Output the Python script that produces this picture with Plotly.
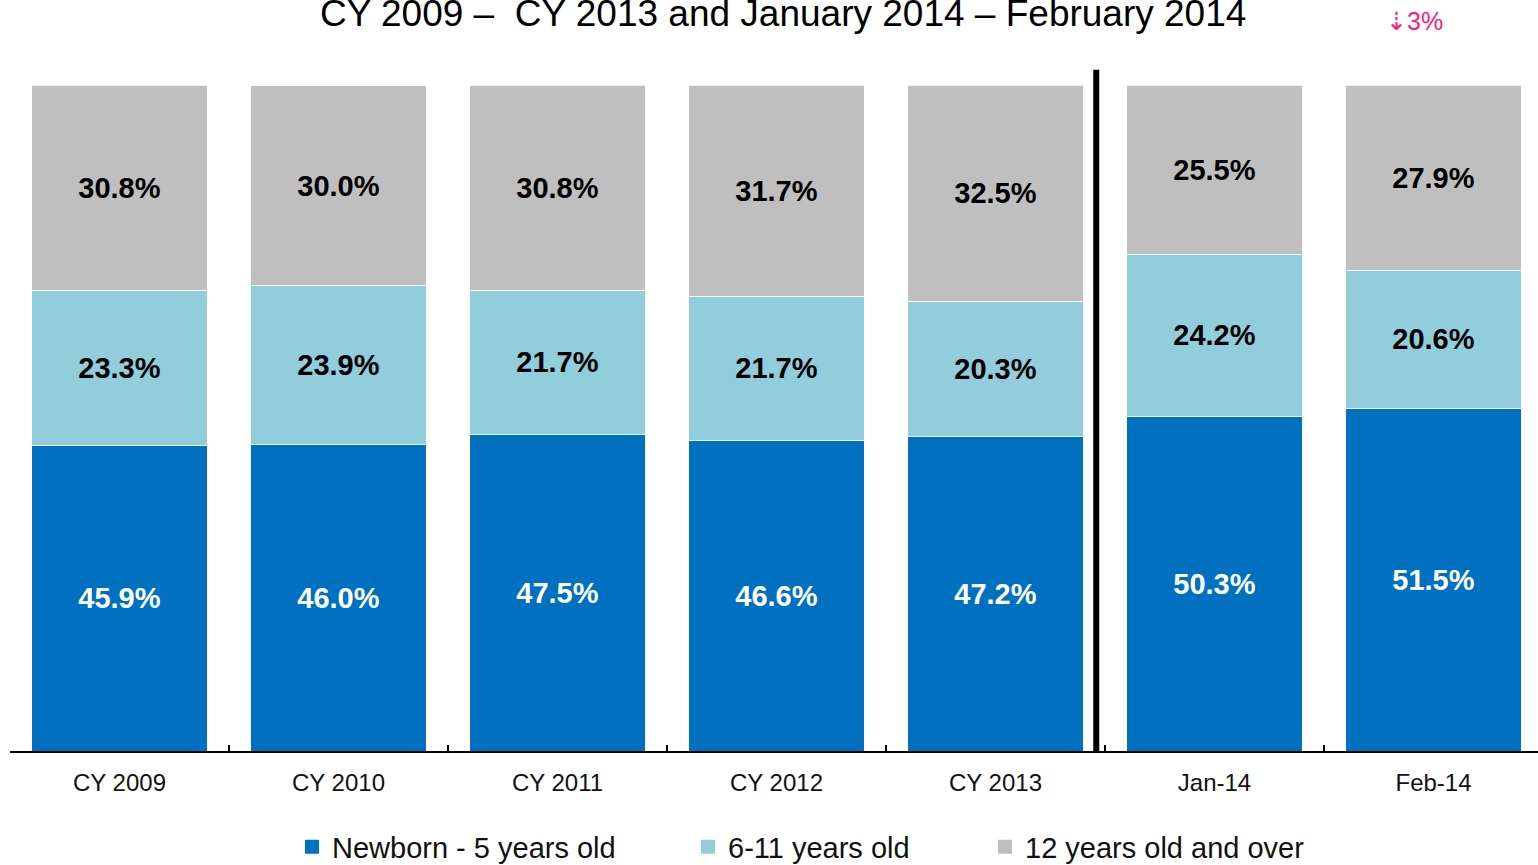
import plotly.graph_objects as go

categories = ["CY 2009", "CY 2010", "CY 2011", "CY 2012", "CY 2013", "Jan-14", "Feb-14"]
newborn_5 = [45.9, 46.0, 47.5, 46.6, 47.2, 50.3, 51.5]
age_6_11 = [23.3, 23.9, 21.7, 21.7, 20.3, 24.2, 20.6]
age_12_over = [30.8, 30.0, 30.8, 31.7, 32.5, 25.5, 27.9]
series_names = ["Newborn - 5 years old", "6-11 years old", "12 years old and over"]

title_text = "CY 2009 –  CY 2013 and January 2014 – February 2014"
change_text = "⇣3%"

FONT = "Liberation Sans, Arial, sans-serif"
colors = ["#0070C0", "#92CDDC", "#BFBFBF"]
label_colors = ["white", "black", "black"]
legend_ids = ["legend", "legend2", "legend3"]

W, H = 1538, 865
ML, MR, MT, MB = 10, 0, 60, 865 - 751
plot_w = W - ML - MR
plot_h = H - MT - MB
cat_px = 219.0
x_max = -0.5 + plot_w / cat_px
px_per_pct = 6.66
y_max = plot_h / px_per_pct


def px_x(px):
    return (px - ML) / plot_w


def px_y(py):
    return (H - MB - py) / plot_h


fig = go.Figure()
for name, vals, col, lc in zip(series_names, [newborn_5, age_6_11, age_12_over],
                               colors, label_colors):
    fig.add_trace(go.Bar(
        x=categories, y=vals, name=name,
        marker=dict(color=col, line=dict(color="white", width=0.8)),
        text=[f"{v:.1f}%" for v in vals],
        textposition="inside", insidetextanchor="middle", textangle=0,
        constraintext="none",
        textfont=dict(family=FONT, size=29, color=lc, weight="bold"),
        showlegend=False, hoverinfo="skip",
    ))

# legend entries (square swatches)
for name, col, lg in zip(series_names, colors, legend_ids):
    fig.add_trace(go.Scatter(
        x=[None], y=[None], mode="markers", name=name,
        marker=dict(symbol="square", size=14, color=col),
        legend=lg, showlegend=True, hoverinfo="skip",
    ))

legend_common = dict(orientation="h", yanchor="middle", xanchor="left",
                     font=dict(family=FONT, size=29, color="#111111"),
                     bgcolor="rgba(0,0,0,0)", borderwidth=0)

fig.update_layout(
    width=W, height=H,
    margin=dict(l=ML, r=MR, t=MT, b=MB, autoexpand=False),
    plot_bgcolor="white", paper_bgcolor="white",
    barmode="stack", bargap=0.2,
    font=dict(family=FONT, color="#111111"),
    xaxis=dict(range=[-0.5, x_max], showline=True, linecolor="black", linewidth=2,
               ticks="inside", tickson="boundaries", ticklen=6, tickcolor="black",
               tickwidth=1.5, tickfont=dict(family=FONT, size=24, color="#111111"),
               ticklabelstandoff=9, showgrid=False, zeroline=False, fixedrange=True),
    yaxis=dict(range=[0, y_max], visible=False, showgrid=False, zeroline=False,
               fixedrange=True),
    legend=dict(x=px_x(292), y=px_y(847), **legend_common),
    legend2=dict(x=px_x(688), y=px_y(847), **legend_common),
    legend3=dict(x=px_x(985), y=px_y(847), **legend_common),
    showlegend=True,
)

fig.add_shape(type="line", xref="x", yref="y", x0=4.46, x1=4.46, y0=0, y1=102.3,
              line=dict(color="black", width=6))

fig.add_annotation(text=title_text, xref="paper", yref="paper",
                   x=px_x(783), y=px_y(14), xanchor="center", yanchor="middle",
                   showarrow=False, font=dict(family=FONT, size=37, color="black"))
fig.add_annotation(text=change_text, xref="paper", yref="paper",
                   x=px_x(1414), y=px_y(21), xanchor="center", yanchor="middle",
                   showarrow=False, font=dict(family=FONT, size=25, color="#FF1A75"))

fig.write_html("out.html", config={"displayModeBar": False},
               post_script="document.body.style.margin='0';document.body.style.overflow='hidden';")
